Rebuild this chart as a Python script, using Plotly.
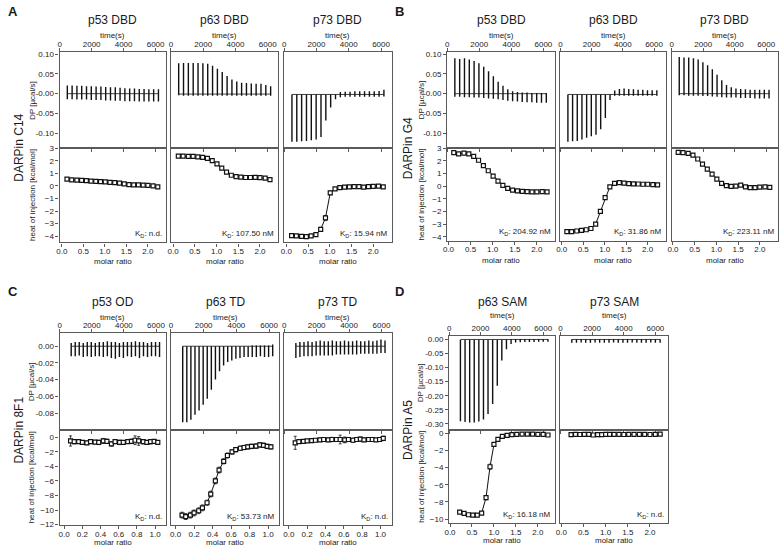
import plotly.graph_objects as go

# ---------------- data ----------------
TIME_AB = [480, 780, 1080, 1380, 1680, 1980, 2280, 2580, 2880, 3180, 3480, 3780, 4080, 4380, 4680, 4980, 5280, 5580, 5880, 6180]
TIME_C = [720, 970, 1220, 1470, 1720, 1970, 2220, 2470, 2720, 2970, 3220, 3470, 3720, 3970, 4220, 4470, 4720, 4970, 5220, 5470, 5720, 5970, 6220]
TIME_D = [720, 1015, 1310, 1600, 1895, 2190, 2480, 2775, 3070, 3360, 3655, 3950, 4240, 4535, 4830, 5120, 5415, 5710, 6000, 6300]

MR_AB = [0.12, 0.23, 0.35, 0.46, 0.57, 0.68, 0.79, 0.90, 1.01, 1.12, 1.23, 1.34, 1.45, 1.56, 1.67, 1.78, 1.89, 2.00, 2.12, 2.23]
MR_C = [0.07, 0.11, 0.16, 0.20, 0.25, 0.29, 0.34, 0.38, 0.43, 0.47, 0.52, 0.56, 0.61, 0.65, 0.70, 0.74, 0.78, 0.82, 0.87, 0.91, 0.95, 0.99, 1.03]
MR_D = [0.22, 0.32, 0.42, 0.52, 0.62, 0.72, 0.82, 0.91, 1.00, 1.09, 1.19, 1.30, 1.41, 1.52, 1.64, 1.76, 1.88, 2.00, 2.12, 2.23]

# A: DARPin C14
A_P53_HI = [0.021, 0.021, 0.020, 0.020, 0.019, 0.019, 0.018, 0.018, 0.017, 0.016, 0.016, 0.015, 0.014, 0.013, 0.013, 0.012, 0.012, 0.011, 0.011, 0.011]
A_P53_LO = [-0.014, -0.014, -0.015, -0.015, -0.015, -0.016, -0.016, -0.016, -0.017, -0.017, -0.018, -0.018, -0.019, -0.019, -0.019, -0.020, -0.020, -0.020, -0.020, -0.020]
A_P53_HEAT = [0.55, 0.48, 0.47, 0.44, 0.42, 0.39, 0.37, 0.34, 0.32, 0.29, 0.26, 0.22, 0.16, 0.11, 0.09, 0.08, 0.06, 0.05, 0.01, -0.08]
A_P53_ERR = [0.08, 0.07, 0.06, 0.05, 0.05, 0.05, 0.05, 0.05, 0.05, 0.05, 0.05, 0.05, 0.05, 0.05, 0.05, 0.05, 0.05, 0.05, 0.05, 0.06]

A_P63_HI = [0.077, 0.078, 0.078, 0.078, 0.078, 0.0775, 0.076, 0.071, 0.063, 0.055, 0.045, 0.036, 0.031, 0.028, 0.027, 0.026, 0.025, 0.025, 0.022, 0.019]
A_P63_LO = [-0.004, -0.005, -0.005, -0.005, -0.005, -0.005, -0.005, -0.005, -0.005, -0.005, -0.005, -0.005, -0.005, -0.005, -0.005, -0.005, -0.005, -0.005, -0.005, -0.005]
A_P63_HEAT = [2.38, 2.37, 2.36, 2.35, 2.32, 2.28, 2.20, 2.02, 1.75, 1.42, 1.10, 0.85, 0.74, 0.70, 0.67, 0.67, 0.68, 0.66, 0.62, 0.50]
A_P63_ERR = [0.06, 0.05, 0.05, 0.05, 0.05, 0.05, 0.06, 0.08, 0.10, 0.12, 0.10, 0.08, 0.06, 0.05, 0.05, 0.05, 0.05, 0.05, 0.05, 0.06]

A_P73_HI = [-0.002, -0.002, -0.002, -0.002, -0.002, -0.002, -0.002, -0.002, -0.002, -0.002, 0.004, 0.005, 0.005, 0.006, 0.006, 0.006, 0.006, 0.006, 0.007, 0.010]
A_P73_LO = [-0.122, -0.122, -0.121, -0.120, -0.118, -0.116, -0.110, -0.068, -0.035, -0.014, -0.009, -0.008, -0.008, -0.008, -0.008, -0.008, -0.008, -0.008, -0.008, -0.007]
A_P73_HEAT = [-3.95, -3.98, -4.02, -4.03, -3.98, -3.88, -3.45, -2.55, -0.55, -0.23, -0.13, -0.09, -0.07, -0.06, -0.06, -0.10, -0.05, -0.03, -0.01, -0.08]
A_P73_ERR = [0.06, 0.05, 0.05, 0.05, 0.05, 0.06, 0.15, 0.20, 0.15, 0.06, 0.05, 0.05, 0.05, 0.05, 0.05, 0.06, 0.05, 0.05, 0.05, 0.05]

# B: DARPin G4
B_P53_HI = [0.090, 0.088, 0.090, 0.087, 0.083, 0.077, 0.068, 0.057, 0.044, 0.030, 0.020, 0.011, 0.006, 0.004, 0.003, 0.003, 0.002, 0.002, 0.002, 0.002]
B_P53_LO = [-0.008, -0.008, -0.009, -0.009, -0.010, -0.010, -0.011, -0.012, -0.013, -0.014, -0.016, -0.018, -0.019, -0.020, -0.021, -0.022, -0.022, -0.023, -0.023, -0.023]
B_P53_HEAT = [2.65, 2.55, 2.62, 2.55, 2.35, 2.05, 1.62, 1.22, 0.80, 0.40, 0.06, -0.18, -0.32, -0.38, -0.42, -0.44, -0.45, -0.45, -0.43, -0.46]
B_P53_ERR = [0.08, 0.10, 0.06, 0.06, 0.06, 0.08, 0.10, 0.10, 0.10, 0.10, 0.08, 0.06, 0.05, 0.05, 0.05, 0.05, 0.05, 0.05, 0.05, 0.06]

B_P63_HI = [-0.002, -0.002, -0.002, -0.002, -0.002, -0.002, -0.002, -0.002, -0.002, -0.002, 0.008, 0.012, 0.013, 0.012, 0.011, 0.010, 0.010, 0.009, 0.009, 0.009]
B_P63_LO = [-0.122, -0.121, -0.120, -0.116, -0.112, -0.108, -0.104, -0.090, -0.062, -0.016, -0.005, -0.005, -0.005, -0.005, -0.005, -0.005, -0.005, -0.005, -0.005, -0.005]
B_P63_HEAT = [-3.60, -3.60, -3.55, -3.50, -3.45, -3.35, -3.00, -2.00, -0.90, -0.05, 0.22, 0.28, 0.24, 0.20, 0.18, 0.17, 0.15, 0.15, 0.12, 0.10]
B_P63_ERR = [0.06, 0.05, 0.05, 0.05, 0.05, 0.06, 0.10, 0.15, 0.15, 0.10, 0.06, 0.05, 0.05, 0.05, 0.05, 0.05, 0.05, 0.05, 0.05, 0.05]

B_P73_HI = [0.093, 0.092, 0.092, 0.090, 0.087, 0.080, 0.072, 0.062, 0.048, 0.034, 0.022, 0.016, 0.013, 0.012, 0.011, 0.010, 0.010, 0.010, 0.010, 0.010]
B_P73_LO = [-0.004, -0.004, -0.005, -0.005, -0.005, -0.006, -0.006, -0.007, -0.008, -0.009, -0.010, -0.010, -0.010, -0.011, -0.011, -0.011, -0.012, -0.012, -0.012, -0.012]
B_P73_HEAT = [2.68, 2.66, 2.60, 2.45, 2.15, 1.75, 1.35, 0.95, 0.55, 0.22, 0.05, -0.02, 0.00, 0.08, -0.05, -0.12, -0.12, -0.08, -0.06, -0.10]
B_P73_ERR = [0.05, 0.05, 0.05, 0.06, 0.08, 0.10, 0.10, 0.10, 0.10, 0.08, 0.06, 0.05, 0.05, 0.05, 0.05, 0.05, 0.05, 0.05, 0.05, 0.05]

# C: DARPin 8F1
C_P53_HI = [0.004, 0.005, 0.005, 0.004, 0.005, 0.005, 0.004, 0.005, 0.005, 0.006, 0.005, 0.005, 0.004, 0.005, 0.005, 0.005, 0.006, 0.005, 0.005, 0.004, 0.005, 0.005, 0.005]
C_P53_LO = [-0.012, -0.012, -0.011, -0.013, -0.012, -0.013, -0.012, -0.012, -0.013, -0.012, -0.014, -0.015, -0.013, -0.014, -0.012, -0.013, -0.012, -0.014, -0.012, -0.013, -0.012, -0.012, -0.013]
C_P53_HEAT = [-0.50, -0.60, -0.60, -0.70, -0.75, -0.60, -0.65, -0.70, -0.50, -0.55, -0.90, -0.60, -0.70, -0.70, -0.60, -0.55, -0.40, -0.50, -0.60, -0.70, -0.60, -0.55, -0.70]
C_P53_ERR = [0.70, 0.30, 0.25, 0.20, 0.25, 0.20, 0.25, 0.30, 0.35, 0.30, 0.30, 0.25, 0.30, 0.25, 0.25, 0.30, 0.60, 0.60, 0.30, 0.25, 0.30, 0.25, 0.25]

C_P63_HI = [0.000, 0.000, 0.000, 0.000, 0.000, 0.000, 0.000, 0.000, 0.000, 0.000, 0.000, 0.000, 0.000, 0.000, 0.000, 0.000, 0.000, 0.001, 0.001, 0.001, 0.001, 0.001, 0.002]
C_P63_LO = [-0.091, -0.091, -0.088, -0.082, -0.077, -0.070, -0.063, -0.052, -0.040, -0.030, -0.023, -0.019, -0.017, -0.015, -0.014, -0.013, -0.013, -0.013, -0.013, -0.012, -0.013, -0.013, -0.012]
C_P63_HEAT = [-10.7, -10.9, -10.7, -10.4, -10.1, -9.7, -9.0, -7.8, -6.0, -4.5, -3.3, -2.5, -2.0, -1.7, -1.5, -1.4, -1.3, -1.25, -1.2, -1.05, -1.1, -1.25, -1.3]
C_P63_ERR = [0.40, 0.40, 0.40, 0.40, 0.40, 0.40, 0.35, 0.40, 0.40, 0.40, 0.35, 0.35, 0.30, 0.30, 0.30, 0.30, 0.30, 0.30, 0.30, 0.30, 0.30, 0.30, 0.30]

C_P73_HI = [0.004, 0.005, 0.005, 0.006, 0.005, 0.006, 0.007, 0.006, 0.006, 0.007, 0.006, 0.006, 0.007, 0.006, 0.006, 0.007, 0.006, 0.006, 0.007, 0.006, 0.007, 0.008, 0.007]
C_P73_LO = [-0.014, -0.013, -0.012, -0.012, -0.012, -0.011, -0.011, -0.011, -0.011, -0.011, -0.010, -0.010, -0.010, -0.010, -0.010, -0.010, -0.009, -0.009, -0.009, -0.009, -0.009, -0.008, -0.008]
C_P73_HEAT = [-0.75, -0.60, -0.55, -0.50, -0.45, -0.40, -0.35, -0.30, -0.35, -0.30, -0.30, -0.30, -0.35, -0.30, -0.40, -0.30, -0.25, -0.35, -0.30, -0.30, -0.35, -0.30, -0.15]
C_P73_ERR = [0.90, 0.20, 0.20, 0.20, 0.20, 0.20, 0.25, 0.20, 0.25, 0.30, 0.20, 0.60, 0.40, 0.25, 0.30, 0.25, 0.30, 0.25, 0.20, 0.25, 0.20, 0.20, 0.30]

# D: DARPin A5
D_P63_HI = [-0.001, -0.001, -0.001, -0.001, -0.001, -0.001, -0.001, -0.001, -0.001, -0.001, 0.000, 0.001, 0.002, 0.002, 0.002, 0.002, 0.002, 0.002, 0.002, 0.002]
D_P63_LO = [-0.291, -0.294, -0.295, -0.295, -0.292, -0.285, -0.265, -0.230, -0.165, -0.075, -0.035, -0.016, -0.011, -0.010, -0.009, -0.009, -0.009, -0.008, -0.008, -0.008]
D_P63_HEAT = [-9.20, -9.35, -9.50, -9.55, -9.55, -9.30, -7.50, -3.90, -1.30, -0.70, -0.35, -0.25, -0.15, -0.12, -0.10, -0.10, -0.10, -0.12, -0.12, -0.20]
D_P63_ERR = [0.12, 0.10, 0.10, 0.10, 0.10, 0.12, 0.25, 0.30, 0.20, 0.15, 0.10, 0.08, 0.08, 0.08, 0.08, 0.08, 0.08, 0.08, 0.08, 0.08]

D_P73_HI = [0.001, 0.001, 0.001, 0.001, 0.001, 0.001, 0.001, 0.001, 0.001, 0.001, 0.001, 0.001, 0.001, 0.001, 0.001, 0.001, 0.001, 0.001, 0.001, 0.001]
D_P73_LO = [-0.012, -0.012, -0.011, -0.012, -0.012, -0.011, -0.012, -0.012, -0.012, -0.011, -0.012, -0.012, -0.012, -0.011, -0.012, -0.012, -0.012, -0.011, -0.012, -0.012]
D_P73_HEAT = [-0.15, -0.12, -0.14, -0.13, -0.12, -0.20, -0.16, -0.15, -0.13, -0.12, -0.13, -0.12, -0.14, -0.12, -0.12, -0.13, -0.12, -0.14, -0.12, -0.10]
D_P73_ERR = [0.05, 0.05, 0.05, 0.05, 0.05, 0.05, 0.05, 0.05, 0.05, 0.05, 0.05, 0.05, 0.05, 0.05, 0.05, 0.05, 0.05, 0.05, 0.05, 0.05]

BASELINES = {"A1": 0.0, "A2": -0.001, "A3": -0.002, "B1": 0.0, "B2": -0.002, "B3": 0.0,
             "C1": 0.0, "C2": 0.0, "C3": 0.0, "D1": 0.0, "D2": 0.0}

# tick labels
TIME_TICKS = [0, 2000, 4000, 6000]
DP_TICKS_AB = [-0.10, -0.05, 0.0, 0.05, 0.10]
DP_TEXT_AB = ["-0.10", "-0.05", "-0.00", "0.05", "0.10"]
DP_TICKS_C = [-0.08, -0.06, -0.04, -0.02, 0.0]
DP_TEXT_C = ["-0.08", "-0.06", "-0.04", "-0.02", "0.00"]
DP_TICKS_D = [-0.30, -0.25, -0.20, -0.15, -0.10, -0.05, 0.0]
DP_TEXT_D = ["-0.30", "-0.25", "-0.20", "-0.15", "-0.10", "-0.05", "0.00"]
HEAT_TICKS_AB = [-4, -3, -2, -1, 0, 1, 2, 3]
HEAT_TICKS_C = [-12, -10, -8, -6, -4, -2, 0]
HEAT_TICKS_D = [-10, -8, -6, -4, -2, 0]
MR_TICKS_2 = [0.0, 0.5, 1.0, 1.5, 2.0]
MR_TICKS_1 = [0.0, 0.2, 0.4, 0.6, 0.8, 1.0]

# ---------------- layout geometry (pixels) ----------------
W, H = 780, 549
FONT = "Liberation Sans, Arial, sans-serif"
TXT = "#1a1a1a"
FRAME = "#5a5a5a"

def fx(p):
    return p / W

def fy(p):
    return 1 - p / H

groups = [
    dict(letter="A", lx=1, ly=8, darpin="DARPin C14", dx=14, labx=27, ytop=49, ymid=146, ybot=242,
         title_y=16, time_y=32, mr_y=261, trange=[0, 6650], dprange=[-0.1375, 0.105],
         dpt=DP_TICKS_AB, dptext=DP_TEXT_AB, hrange=[-4.5, 3.03], ht=HEAT_TICKS_AB,
         panels=[("p53 DBD", 55, 162, TIME_AB, A_P53_HI, A_P53_LO, "A1", MR_AB, A_P53_HEAT, A_P53_ERR, "n.d."),
                 ("p63 DBD", 167, 275, TIME_AB, A_P63_HI, A_P63_LO, "A2", MR_AB, A_P63_HEAT, A_P63_ERR, "107.50 nM"),
                 ("p73 DBD", 281, 389, TIME_AB, A_P73_HI, A_P73_LO, "A3", MR_AB, A_P73_HEAT, A_P73_ERR, "15.94 nM")],
         mrrange=[-0.05, 2.42], mrt=MR_TICKS_2),
    dict(letter="B", lx=390, ly=8, darpin="DARPin G4", dx=405, labx=419, ytop=49, ymid=146, ybot=240,
         title_y=16, time_y=32, mr_y=260, trange=[0, 6750], dprange=[-0.1375, 0.105],
         dpt=DP_TICKS_AB, dptext=DP_TEXT_AB, hrange=[-4.3, 3.03], ht=HEAT_TICKS_AB,
         panels=[("p53 DBD", 445, 554, TIME_AB, B_P53_HI, B_P53_LO, "B1", MR_AB, B_P53_HEAT, B_P53_ERR, "204.92 nM"),
                 ("p63 DBD", 559, 665, TIME_AB, B_P63_HI, B_P63_LO, "B2", MR_AB, B_P63_HEAT, B_P63_ERR, "31.86 nM"),
                 ("p73 DBD", 671, 778, TIME_AB, B_P73_HI, B_P73_LO, "B3", MR_AB, B_P73_HEAT, B_P73_ERR, "223.11 nM")],
         mrrange=[-0.03, 2.42], mrt=MR_TICKS_2),
    dict(letter="C", lx=1, ly=292, darpin="DARPin 8F1", dx=14, labx=27, ytop=334, ymid=432, ybot=529,
         title_y=302, time_y=318, mr_y=546, trange=[0, 6620], dprange=[-0.1, 0.0157],
         dpt=DP_TICKS_C, dptext=DP_TEXT_C, hrange=[-12.1, 1.05], ht=HEAT_TICKS_C,
         panels=[("p53 OD", 55, 162, TIME_C, C_P53_HI, C_P53_LO, "C1", MR_C, C_P53_HEAT, C_P53_ERR, "n.d."),
                 ("p63 TD", 167, 276, TIME_C, C_P63_HI, C_P63_LO, "C2", MR_C, C_P63_HEAT, C_P63_ERR, "53.73 nM"),
                 ("p73 TD", 281, 389, TIME_C, C_P73_HI, C_P73_LO, "C3", MR_C, C_P73_HEAT, C_P73_ERR, "n.d.")],
         mrrange=[-0.05, 1.12], mrt=MR_TICKS_1),
    dict(letter="D", lx=390, ly=292, darpin="DARPin A5", dx=405, labx=419, ytop=337, ymid=432, ybot=527,
         title_y=302, time_y=316, mr_y=544, trange=[0, 6780], dprange=[-0.321, 0.012],
         dpt=DP_TICKS_D, dptext=DP_TEXT_D, hrange=[-10.5, 0.42], ht=HEAT_TICKS_D,
         panels=[("p63 SAM", 447, 554, TIME_D, D_P63_HI, D_P63_LO, "D1", MR_D, D_P63_HEAT, D_P63_ERR, "16.18 nM"),
                 ("p73 SAM", 559, 667, TIME_D, D_P73_HI, D_P73_LO, "D2", MR_D, D_P73_HEAT, D_P73_ERR, "n.d.")],
         mrrange=[-0.02, 2.4], mrt=MR_TICKS_2),
]

fig = go.Figure()
layout = {}
annotations = []

def ann(text, x, y, size, rot=0, xanchor="center", yanchor="middle", bold=False):
    annotations.append(dict(text=("<b>%s</b>" % text) if bold else text, x=fx(x), y=fy(y),
                            xref="paper", yref="paper", showarrow=False, textangle=rot,
                            xanchor=xanchor, yanchor=yanchor,
                            font=dict(size=size, family=FONT, color=TXT)))

axis_common = dict(showgrid=False, zeroline=False, showline=True, linecolor=FRAME, linewidth=1.3,
                   tickfont=dict(size=8, family=FONT, color=TXT), tickcolor=FRAME, ticklen=3, tickwidth=1)

k = 0
for g in groups:
    ann(g["letter"], g["lx"], g["ly"], 13, xanchor="left", bold=True)
    ann(g["darpin"], g["dx"], g["ymid"], 12, rot=-90)
    ann("DP [µcal/s]", g["labx"], (g["ytop"] + g["ymid"]) / 2, 8, rot=-90)
    ann("heat of injection [kcal/mol]", g["labx"], (g["ymid"] + g["ybot"]) / 2, 8, rot=-90)
    for ci, (title, x0, x1, tt, hi, lo, key, mr, heat, err, kd) in enumerate(g["panels"]):
        first = ci == 0
        kt, kb = k + 1, k + 2
        k += 2
        cx = (x0 + x1) / 2
        ann(title, cx, g["title_y"], 12)
        ann("time(s)", cx, g["time_y"], 8)
        ann("molar ratio", cx, g["mr_y"], 8)
        ann("K<sub>D</sub>: " + kd, x1 - 2, g["ybot"] - 1.5, 8, xanchor="right", yanchor="bottom")

        sx, sy = "x%d" % kt, "y%d" % kt
        bx, by = "x%d" % kb, "y%d" % kb
        # thermogram spikes
        xs, ys = [], []
        for t, h, l in zip(tt, hi, lo):
            xs += [t, t, None]
            ys += [l, h, None]
        base = BASELINES[key]
        fig.add_trace(go.Scatter(x=[tt[0], tt[-1]], y=[base, base], mode="lines",
                                 line=dict(color="#111", width=0.8), xaxis=sx, yaxis=sy,
                                 hoverinfo="skip", showlegend=False))
        fig.add_trace(go.Scatter(x=xs, y=ys, mode="lines", line=dict(color="#111", width=1.4),
                                 xaxis=sx, yaxis=sy, hoverinfo="skip", showlegend=False))
        # isotherm
        fig.add_trace(go.Scatter(x=mr, y=heat, mode="lines+markers",
                                 line=dict(color="#111", width=1),
                                 marker=dict(symbol="square", size=4, color="white",
                                             line=dict(color="#111", width=1.2)),
                                 error_y=dict(type="data", array=err, color="#111", thickness=0.8, width=1.5),
                                 xaxis=bx, yaxis=by, showlegend=False))

        dom_x = [fx(x0), fx(x1)]
        layout["xaxis%d" % kt] = dict(axis_common, domain=dom_x, anchor=sy, side="top", range=g["trange"],
                                      tickvals=TIME_TICKS, ticks="outside", mirror="ticks",
                                      ticklabelstandoff=-2)
        ylab = dict(tickvals=g["dpt"], ticktext=g["dptext"], ticks="outside") if first else \
            dict(showticklabels=False, ticks="")
        layout["yaxis%d" % kt] = dict(axis_common, domain=[fy(g["ymid"]), fy(g["ytop"])], anchor=sx,
                                      range=g["dprange"], mirror=True, **ylab)
        layout["xaxis%d" % kb] = dict(axis_common, domain=dom_x, anchor=by, side="bottom", range=g["mrrange"],
                                      tickvals=g["mrt"], tickformat=".1f", ticks="outside", mirror=True,
                                      ticklabelstandoff=-2)
        hlab = dict(tickvals=g["ht"], ticks="outside") if first else dict(showticklabels=False, ticks="")
        layout["yaxis%d" % kb] = dict(axis_common, domain=[fy(g["ybot"]), fy(g["ymid"])], anchor=bx,
                                      range=g["hrange"], mirror=True, **hlab)

# plotly names the first axes xaxis / yaxis
layout["xaxis"] = layout.pop("xaxis1")
layout["yaxis"] = layout.pop("yaxis1")
for tr in fig.data:
    if tr.xaxis == "x1":
        tr.xaxis = "x"
    if tr.yaxis == "y1":
        tr.yaxis = "y"

fig.update_layout(**layout)
fig.update_layout(width=W, height=H, margin=dict(l=0, r=0, t=0, b=0),
                  paper_bgcolor="white", plot_bgcolor="white", showlegend=False,
                  font=dict(family=FONT, color=TXT), annotations=annotations)

fig.write_html("out.html", config={"displayModeBar": False},
               post_script="document.body.style.margin='0';document.body.style.overflow='hidden';")
